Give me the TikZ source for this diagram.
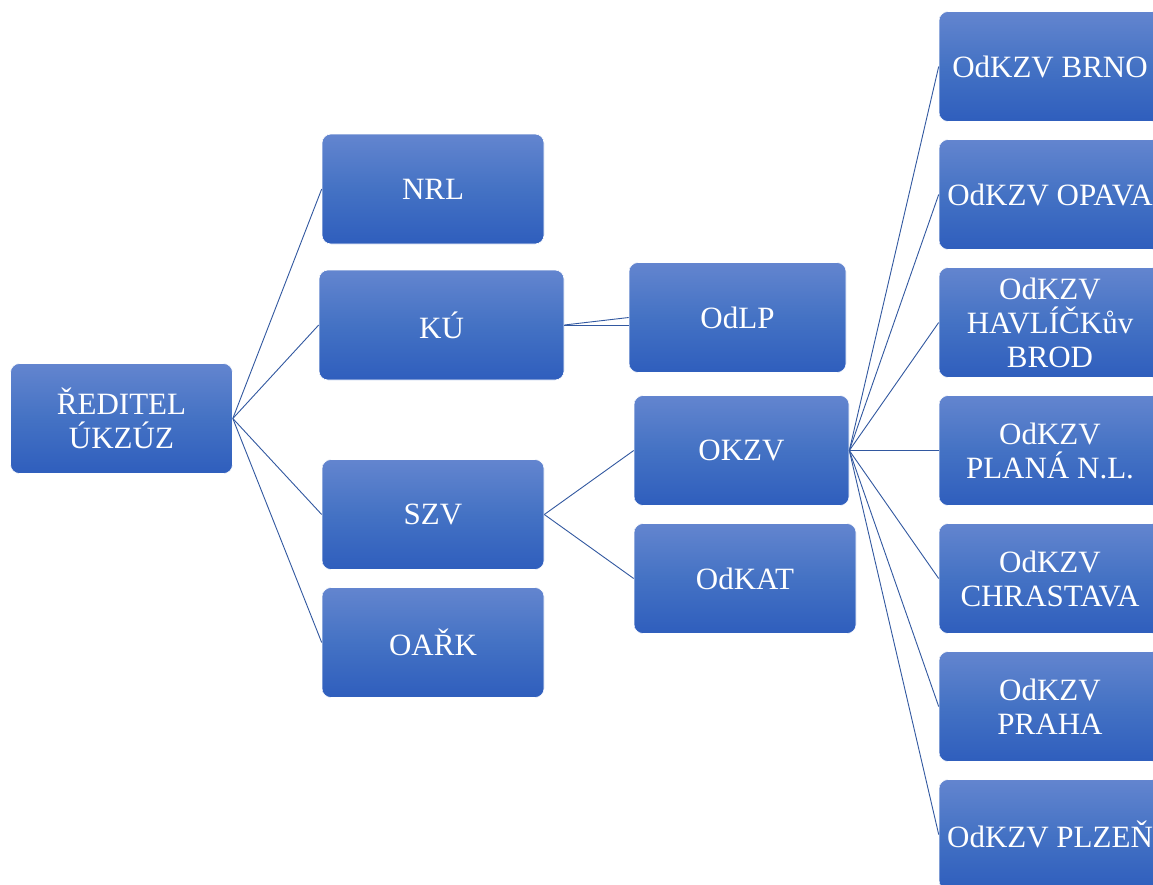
\documentclass[tikz,border=0pt]{standalone}
\usepackage{fontspec}
\setmainfont{Liberation Serif}
\definecolor{boxtop}{RGB}{99,133,207}
\definecolor{boxmid}{RGB}{68,114,196}
\definecolor{boxbot}{RGB}{47,94,189}
\definecolor{linkc}{RGB}{50,88,160}
\tikzset{
  box/.style={rounded corners=9pt, top color=boxtop, bottom color=boxbot, middle color=boxmid,
    draw=white, line width=0.6pt, text=white, align=center, inner sep=0pt,
    font=\fontsize{31}{34}\selectfont},
  link/.style={draw=linkc, line width=0.9pt}
}
\begin{document}
\begin{tikzpicture}[x=1pt,y=-1pt]
\useasboundingbox (0,0) rectangle (1153,884);
\clip (0,0) rectangle (1153,884);
\fill[white] (0,0) rectangle (1153,884);
% level 0
\node[box, minimum width=222pt, minimum height=110pt] (red) at (121.5,418.5) {ŘEDITEL\\ÚKZÚZ};
% level 1
\node[box, minimum width=222pt, minimum height=110pt] (nrl) at (433,189) {NRL};
\node[box, minimum width=245pt, minimum height=110pt] (ku) at (441.5,325) {KÚ};
\node[box, minimum width=222pt, minimum height=110pt] (szv) at (433,514.5) {SZV};
\node[box, minimum width=222pt, minimum height=110pt] (oark) at (433,642.5) {OAŘK};
% level 2
\node[box, minimum width=217pt, minimum height=110pt] (odlp) at (737.5,317.5) {OdLP};
\node[box, minimum width=215pt, minimum height=110pt] (okzv) at (741.5,450.5) {OKZV};
\node[box, minimum width=222pt, minimum height=110pt] (odkat) at (745,578.5) {OdKAT};
% level 3
\node[box, minimum width=222pt, minimum height=110pt] (brno) at (1050,66.5) {OdKZV BRNO};
\node[box, minimum width=222pt, minimum height=110pt] (opava) at (1050,194.5) {OdKZV OPAVA};
\node[box, minimum width=222pt, minimum height=110pt] (hb) at (1050,322.5) {OdKZV\\HAVLÍČKův\\BROD};
\node[box, minimum width=222pt, minimum height=110pt] (plana) at (1050,450.5) {OdKZV\\PLANÁ N.L.};
\node[box, minimum width=222pt, minimum height=110pt] (chr) at (1050,578.5) {OdKZV\\CHRASTAVA};
\node[box, minimum width=222pt, minimum height=110pt] (praha) at (1050,706.5) {OdKZV\\PRAHA};
\node[box, minimum width=222pt, minimum height=110pt] (plzen) at (1050,834.5) {OdKZV PLZEŇ};
% connectors
\foreach \n in {nrl,ku,szv,oark} \draw[link] (red.east) -- (\n.west);
\draw[link] (ku.east) -- (odlp.west);
\draw[link] (ku.east) -- (ku.east -| odlp.west);
\draw[link] (szv.east) -- (okzv.west);
\draw[link] (szv.east) -- (odkat.west);
\foreach \n in {brno,opava,hb,plana,chr,praha,plzen} \draw[link] (okzv.east) -- (\n.west);
\end{tikzpicture}
\end{document}
